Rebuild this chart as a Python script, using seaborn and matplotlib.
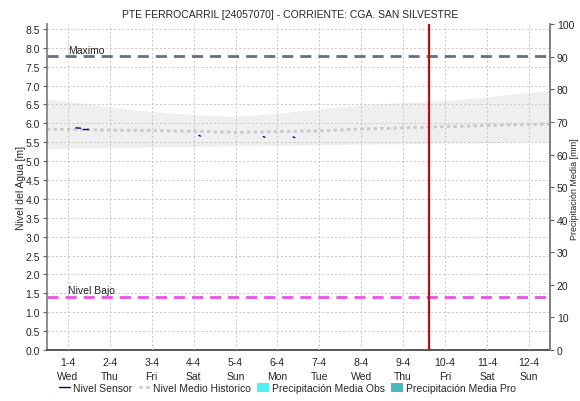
import matplotlib
matplotlib.use("Agg")
import matplotlib.pyplot as plt
import matplotlib.dates as mdates
from matplotlib.lines import Line2D
from matplotlib.patches import Patch
import numpy as np
import pandas as pd
import seaborn as sns

# ---- data -------------------------------------------------------------
title = "PTE FERROCARRIL [24057070] - CORRIENTE: CGA. SAN SILVESTRE"
start = pd.Timestamp("2020-04-01")

# historical statistics (hours from 1-4 00:00)
hist_hours = [-12, 0, 24, 48, 72, 96, 120, 144, 168, 192, 216, 240, 264, 276]
hist_max = [6.65, 6.58, 6.43, 6.31, 6.23, 6.18, 6.27, 6.38, 6.49, 6.55, 6.60, 6.70, 6.82, 6.86]
hist_mean = [5.84, 5.84, 5.82, 5.81, 5.79, 5.76, 5.78, 5.80, 5.85, 5.88, 5.91, 5.94, 5.97, 5.98]
hist_min = [5.33, 5.34, 5.35, 5.37, 5.38, 5.40, 5.41, 5.43, 5.45, 5.46, 5.48, 5.49, 5.50, 5.50]

# sensor readings (hours from 1-4 00:00), grouped into continuous pieces
sensor_hours = [4.6, 7.2, 8.6, 11.5, 75.0, 75.9, 111.9, 112.8, 129.0, 129.9]
sensor_level = [5.88, 5.87, 5.86, 5.86, 5.68, 5.66, 5.65, 5.63, 5.64, 5.62]
sensor_piece = [0, 0, 1, 1, 2, 2, 3, 3, 4, 4]

level_max = 7.78
level_low = 1.41
now_hours = 207.0

day_labels = ["1-4\nWed", "2-4\nThu", "3-4\nFri", "4-4\nSat", "5-4\nSun", "6-4\nMon",
              "7-4\nTue", "8-4\nWed", "9-4\nThu", "10-4\nFri", "11-4\nSat", "12-4\nSun"]

# ---- frames -----------------------------------------------------------
hist = pd.DataFrame({
    "time": start + pd.to_timedelta(hist_hours, unit="h"),
    "max": hist_max, "mean": hist_mean, "min": hist_min,
})
sensor = pd.DataFrame({
    "time": start + pd.to_timedelta(sensor_hours, unit="h"),
    "level": sensor_level, "piece": sensor_piece,
})

# ---- figure -----------------------------------------------------------
sns.set_theme(style="white")
plt.rcParams["font.family"] = ["Liberation Sans", "DejaVu Sans"]
plt.rcParams["font.size"] = 7.5

fig = plt.figure(figsize=(5.8, 4.02), dpi=100)
ax = fig.add_axes([0.081, 0.127, 0.867, 0.810])

ax.fill_between(hist["time"], hist["min"], hist["max"], color="#efefef", lw=0, zorder=1)
sns.lineplot(data=hist, x="time", y="mean", ax=ax, color="#c8c8c8", lw=2,
             linestyle=(0, (1.2, 1.2)), zorder=2, legend=False)
sns.lineplot(data=sensor, x="time", y="level", units="piece", estimator=None, ax=ax,
             color="#000080", lw=1, zorder=4, legend=False)

ax.axhline(level_max, color="#647089", lw=2, dashes=(4, 2.5), zorder=3)
ax.axhline(level_low, color="#ee4fe8", lw=2, dashes=(4, 2.5), zorder=3)
x_lab = mdates.date2num(start)
ax.text(x_lab, level_max + 0.04, "Maximo", fontsize=7.5, va="bottom", ha="left", color="#222222")
ax.text(x_lab, level_low + 0.04, "Nivel Bajo", fontsize=7.5, va="bottom", ha="left", color="#222222")

now = start + pd.Timedelta(hours=now_hours)
ax.axvline(now, color="#c0141a", lw=1.6, zorder=5)
ax.axvline(now, color="#5a0000", lw=0.6, linestyle=(0, (1, 1.5)), zorder=6)

ax.set_xlim(start - pd.Timedelta(hours=12), start + pd.Timedelta(hours=276))
ax.set_ylim(0, 8.62)
ax.set_yticks(np.arange(0, 8.51, 0.5))
ax.set_yticklabels([f"{v:.1f}" for v in np.arange(0, 8.51, 0.5)])
ticks = [start + pd.Timedelta(days=i) for i in range(12)]
ax.set_xticks(ticks)
ax.set_xticklabels(day_labels, linespacing=1.5)
ax.set_xlabel("")
ax.set_ylabel("Nivel del Agua [m]", fontsize=7.5, labelpad=0)

ax.grid(True, color="#c0c0c0", lw=0.6, linestyle=(0, (2.5, 2.5)))
ax.set_axisbelow(False)
ax.spines["top"].set_visible(False)
ax.spines["left"].set_color("#808080")
ax.spines["right"].set_color("#808080")
ax.spines["bottom"].set_color("#404040")
ax.spines["bottom"].set_linestyle((0, (1, 1)))
ax.tick_params(axis="y", length=3, width=0.8, color="#606060", pad=2, labelsize=7.5)
ax.tick_params(axis="x", length=0, pad=5, labelsize=7.5)

ax2 = ax.twinx()
ax2.set_ylim(0, 100)
ax2.set_yticks(range(0, 101, 10))
ax2.tick_params(axis="y", length=3, width=0.8, color="#606060", pad=2, labelsize=7.5)
ax2.grid(False)
for a in ("top", "bottom", "left"):
    ax2.spines[a].set_visible(False)
ax2.spines["right"].set_color("#808080")
fig.text(0.999, 0.53, "Precipitación Media [mm]", rotation=90, ha="right", va="center", fontsize=6.5)

fig.suptitle(title, x=0.5, y=0.975, fontsize=7.5)

handles = [
    Line2D([], [], color="#000080", lw=1),
    Line2D([], [], color="#c8c8c8", lw=2, linestyle=(0, (1.2, 1.2))),
    Patch(facecolor="#4ff0f8", edgecolor="none"),
    Patch(facecolor="#4ab9bd", edgecolor="none"),
]
labels = ["Nivel Sensor", "Nivel Medio Historico", "Precipitación Media Obs", "Precipitación Media Pro"]
fig.legend(handles, labels, loc="center", bbox_to_anchor=(0.495, 0.033), ncol=4, frameon=False,
           fontsize=7.5, handlelength=1.1, handleheight=1.0, handletextpad=0.3, columnspacing=0.6)

fig.savefig("out.png", dpi=100)
